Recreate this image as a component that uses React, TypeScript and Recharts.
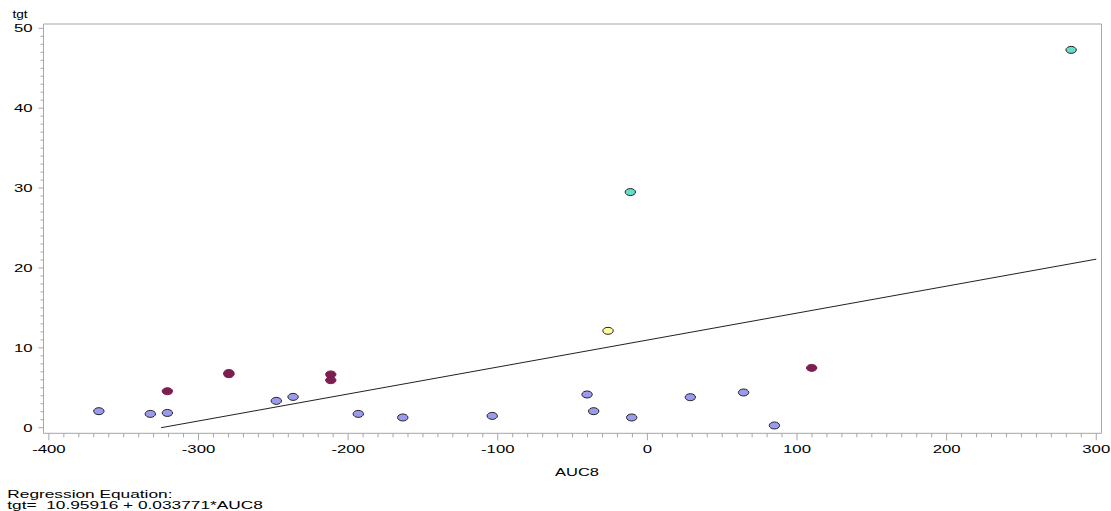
import { ScatterChart, Scatter, XAxis, YAxis, ReferenceLine } from 'recharts'

type Pt = { x: number; y: number }

// AUC8 / tgt
const bluePts: Pt[] = [
  { x: -366.6, y: 2.07 }, { x: -332.2, y: 1.73 }, { x: -320.8, y: 1.85 },
  { x: -248.0, y: 3.36 }, { x: -236.8, y: 3.86 }, { x: -193.2, y: 1.73 },
  { x: -163.5, y: 1.28 }, { x: -103.7, y: 1.48 }, { x: -40.3, y: 4.16 },
  { x: -35.9, y: 2.07 }, { x: -10.5, y: 1.28 }, { x: 28.7, y: 3.82 },
  { x: 64.3, y: 4.41 }, { x: 84.9, y: 0.28 },
]
const maroonPts: Pt[] = [
  { x: -320.8, y: 4.57 }, { x: -279.7, y: 6.85 }, { x: -279.7, y: 6.7 },
  { x: -211.6, y: 6.67 }, { x: -211.6, y: 5.95 }, { x: 109.8, y: 7.49 },
]
const yellowPts: Pt[] = [{ x: -26.3, y: 12.13 }]
const greenPts: Pt[] = [{ x: -11.4, y: 29.5 }, { x: 283.2, y: 47.3 }]

// regression line ends
const regX = [-325, 300]
const regY = [0, 21.1]

const X_MIN = -403.6, X_MAX = 303.5
const Y_MIN = -0.7, Y_MAX = 50.54
const xTicks: number[] = []
for (let v = -400; v <= 300; v += 10) xTicks.push(v)
const yTicks: number[] = []
for (let v = 0; v <= 50; v += 1) yTicks.push(v)

const AXIS = '#a6a6ab'
const FONT = '"Liberation Sans", Arial, sans-serif'

const dot = (fill: string, stroke: string) => (p: any) =>
  <ellipse cx={p.cx} cy={p.cy} rx={5.2} ry={3.5} fill={fill} stroke={stroke} strokeWidth={1} />

const XTick = (p: any) => {
  const v = p.payload.value
  const major = v % 100 === 0
  return (
    <g>
      <line x1={p.x} x2={p.x} y1={p.y} y2={p.y + (major ? 7 : 4)} stroke={AXIS} />
      {major && (
        <text transform={`translate(${p.x},${p.y + 20}) scale(1.55,1)`} textAnchor="middle"
              fontSize={10.8} fontFamily={FONT} fill="#000">{v}</text>
      )}
    </g>
  )
}

const YTick = (p: any) => {
  const v = p.payload.value
  const major = v % 10 === 0
  return (
    <g>
      <line x1={p.x - (major ? 5 : 3)} x2={p.x} y1={p.y} y2={p.y} stroke={AXIS} />
      {major && (
        <text transform={`translate(${p.x - 11},${p.y + 3.8}) scale(1.55,1)`} textAnchor="end"
              fontSize={10.8} fontFamily={FONT} fill="#000">{v}</text>
      )}
    </g>
  )
}

export default function App() {
  const seg = [{ x: regX[0], y: regY[0] }, { x: regX[1], y: regY[1] }]
  return (
    <div style={{ position: 'absolute', left: 0, top: 0, width: 1111, height: 511, background: '#fff' }}>
      <ScatterChart width={1111} height={511} margin={{ top: 24, right: 9.5, bottom: 47.7, left: 0 }}>
        <XAxis type="number" dataKey="x" domain={[X_MIN, X_MAX]} allowDataOverflow ticks={xTicks}
               interval={0} tickSize={0} tickMargin={0} tickLine={false} tick={<XTick />}
               stroke={AXIS} height={30} />
        <YAxis type="number" dataKey="y" domain={[Y_MIN, Y_MAX]} allowDataOverflow ticks={yTicks}
               interval={0} tickSize={0} tickMargin={0} tickLine={false} tick={<YTick />}
               stroke={AXIS} width={43.5} />
        <ReferenceLine y={Y_MAX} stroke={AXIS} />
        <ReferenceLine x={X_MAX} stroke={AXIS} />
        <ReferenceLine segment={seg} stroke="#222" strokeWidth={1} />
        <Scatter data={bluePts} shape={dot('#9b9bee', '#222')} isAnimationActive={false} />
        <Scatter data={maroonPts} shape={dot('#7a1f50', '#7a1f50')} isAnimationActive={false} />
        <Scatter data={yellowPts} shape={dot('#ffff99', '#222')} isAnimationActive={false} />
        <Scatter data={greenPts} shape={dot('#66ddc8', '#222')} isAnimationActive={false} />
      </ScatterChart>
      <svg width={1111} height={511} style={{ position: 'absolute', left: 0, top: 0, pointerEvents: 'none' }}
           fontFamily={FONT} fontSize={10.5} fill="#000">
        <text transform="translate(12.5,18) scale(1.3,1)">tgt</text>
        <text transform="translate(577,476) scale(1.57,1)" textAnchor="middle">AUC8</text>
        <text transform="translate(7.3,497.5) scale(1.73,1)" fontSize={10}>Regression Equation:</text>
        <text transform="translate(7.3,508.5) scale(1.73,1)" fontSize={10} style={{ whiteSpace: 'pre' }}>tgt=  10.95916 + 0.033771*AUC8</text>
      </svg>
    </div>
  )
}
